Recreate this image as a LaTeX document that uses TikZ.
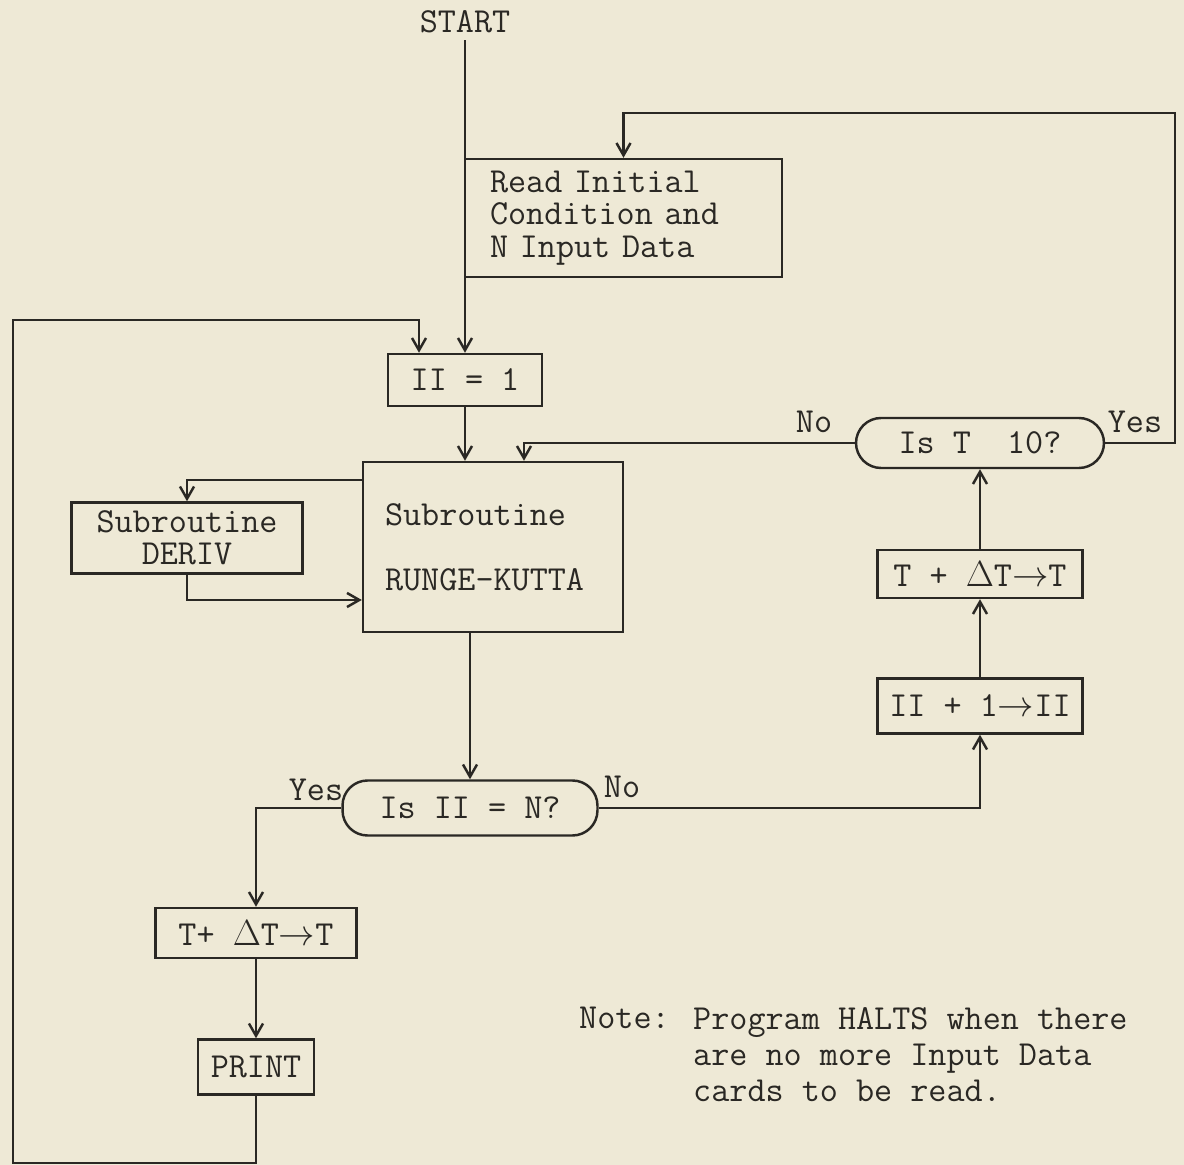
\documentclass[tikz,border=0pt]{standalone}
\usepackage{fontspec}
\usetikzlibrary{arrows.meta}
\definecolor{paper}{RGB}{238,233,214}
\definecolor{ink}{RGB}{42,40,36}

\tikzset{
	flowbox/.style={draw, rectangle, inner sep=0pt},
	decision/.style={draw, rectangle, rounded corners=0.5cm, inner sep=0pt},
	arr/.style={-{Straight Barb[length=7pt,width=8pt]}},
	answer/.style={inner sep=0pt}
}

\begin{document}
\begin{tikzpicture}[x=0.02cm, y=-0.02cm, color=ink, line width=1.4pt,
		font=\ttfamily\fontsize{20}{18.5}\selectfont]
	\useasboundingbox[fill=paper] (0,0) rectangle (1184,1165);
	% Nodes:
	\node (start) at (465,22) {START};
	\node[flowbox, minimum width=6.34cm, minimum height=2.36cm, text width=5.34cm, align=left] (read) at (623.5,218) {Read Initial\\Condition and\\N Input Data};
	\node[flowbox, minimum width=3.08cm, minimum height=1.04cm] (ii1) at (465,380) {II = 1};
	\node[flowbox, minimum width=5.2cm, minimum height=3.4cm, text width=4.32cm, align=left] (rk) at (493,547) {Subroutine\\[0.65cm]RUNGE-KUTTA};
	\node[flowbox, minimum width=4.62cm, minimum height=1.42cm, align=center] (deriv) at (187,538) {Subroutine\\DERIV};
	\node[decision, minimum width=5.1cm, minimum height=1.1cm] (isn) at (470,808) {Is II = N?};
	\node[flowbox, minimum width=4.02cm, minimum height=1.0cm] (tdtl) at (256,933) {T+ $\Delta$T$\rightarrow$T};
	\node[flowbox, minimum width=2.32cm, minimum height=1.1cm] (print) at (256,1067) {PRINT};
	\node[flowbox, minimum width=4.1cm, minimum height=1.1cm] (iip1) at (980,706) {II + 1$\rightarrow$II};
	\node[flowbox, minimum width=4.1cm, minimum height=0.96cm] (tdtr) at (980,574) {T + $\Delta$T$\rightarrow$T};
	\node[decision, minimum width=4.96cm, minimum height=1.0cm] (ist) at (980,443) {Is T~~10?};
	% Labels:
	\node[answer] (yesT) at (1135,422) {Yes};
	\node[answer] (noT) at (814,422) {No};
	\node[answer] (yesN) at (316,790) {Yes};
	\node[answer] (noN) at (622,787) {No};
	\node[answer, anchor=north west] (notehead) at (578,1006) {Note:};
	\node[answer, anchor=north west, align=left] (notebody) at (692,1006) {Program HALTS when there\\[2pt]are no more Input Data\\[2pt]cards to be read.};
	% Corners:
	\coordinate (topR) at (1175,113);
	\coordinate (botL) at (13,1163);
	\coordinate (topL) at (13,320);
	% Wires:
	\draw[arr] (start.south) -- (start.south |- ii1.north);
	\draw[arr] (ist.east) -| (topR) -| (read.north);
	\draw[arr] (print.south) |- (botL) -- (topL) -| ([xshift=-0.92cm]ii1.north);
	\draw[arr] (ii1.south) -- (ii1.south |- rk.north);
	\draw[arr] (ist.west) -| ([xshift=0.62cm]rk.north);
	\draw[arr] ([yshift=-0.38cm]rk.north west) -| (deriv.north);
	\draw[arr] (deriv.south) |- ([yshift=-1.06cm]rk.west);
	\draw[arr] (isn.north |- rk.south) -- (isn.north);
	\draw[arr] (isn.west) -| (tdtl.north);
	\draw[arr] (tdtl.south) -- (print.north);
	\draw[arr] (isn.east) -| (iip1.south);
	\draw[arr] (iip1.north) -- (tdtr.south);
	\draw[arr] (tdtr.north) -- (ist.south);
\end{tikzpicture}
\end{document}
